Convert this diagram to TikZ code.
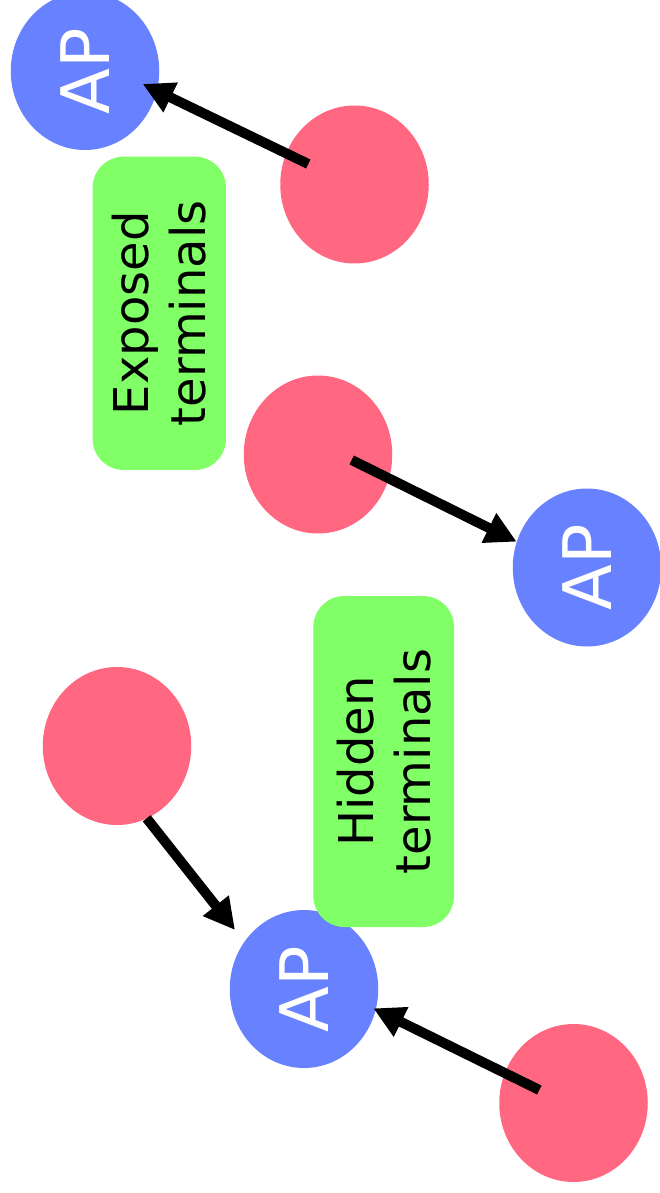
\documentclass[tikz,border=0pt]{standalone}
\usepackage{fontspec}
\setmainfont{DejaVu Sans}
\usetikzlibrary{shapes.geometric,arrows.meta}
\definecolor{apblue}{RGB}{104,130,255}
\definecolor{stared}{RGB}{255,104,128}
\definecolor{notegreen}{RGB}{128,255,102}

\begin{document}
\begin{tikzpicture}[x=1pt,y=-1pt,
  ap/.style={ellipse, fill=apblue, text=white, inner sep=0pt,
    minimum width=158pt, minimum height=148.5pt, rotate=90,
    font=\fontsize{67}{80}\selectfont},
  sta/.style={ellipse, fill=stared, inner sep=0pt,
    minimum width=148.5pt, minimum height=158pt},
  note/.style={rounded corners=31pt, fill=notegreen, rotate=90,
    align=center, inner sep=0pt, font=\fontsize{48}{57}\selectfont},
  link/.style={line width=10pt, -{Triangle[length=31pt,width=31pt]}}]

\useasboundingbox (0,0) rectangle (660,1193);

% access points and stations
\node[ap]  (a1) at (85,71)      {AP};
\node[sta] (r1) at (354.5,184.5) {};
\node[sta] (r2) at (318,454.5)  {};
\node[ap]  (a2) at (587,567.5)  {AP};
\node[sta] (r3) at (117,746)    {};
\node[ap]  (a3) at (304,989)    {AP};
\node[sta] (r4) at (573.5,1103) {};

% labels
\node[note, minimum width=313.3pt, minimum height=133.3pt]
  (exposed) at (159.3,313.3) {Exposed\\terminals};
\node[note, minimum width=331pt, minimum height=140.7pt]
  (hidden) at (383.7,761.5) {Hidden\\terminals};

% link end points
\coordinate (r1out) at ([shift={(-46.2,-20.5)}]r1.center);
\coordinate (a1in)  at ([shift={(57.7,13)}]a1.center);
\coordinate (r2out) at ([shift={(33.7,5.5)}]r2.center);
\coordinate (a2in)  at ([shift={(-70.3,-25.8)}]a2.center);
\coordinate (r3out) at ([shift={(29.7,72.3)}]r3.center);
\coordinate (a3inl) at ([shift={(-69,-59)}]a3.center);
\coordinate (r4out) at ([shift={(-34.2,-13)}]r4.center);
\coordinate (a3inr) at ([shift={(69.3,19.3)}]a3.center);

% links
\draw[link] (r1out) -- (a1in);
\draw[link] (r2out) -- (a2in);
\draw[link] (r3out) -- (a3inl);
\draw[link] (r4out) -- (a3inr);
\end{tikzpicture}
\end{document}
